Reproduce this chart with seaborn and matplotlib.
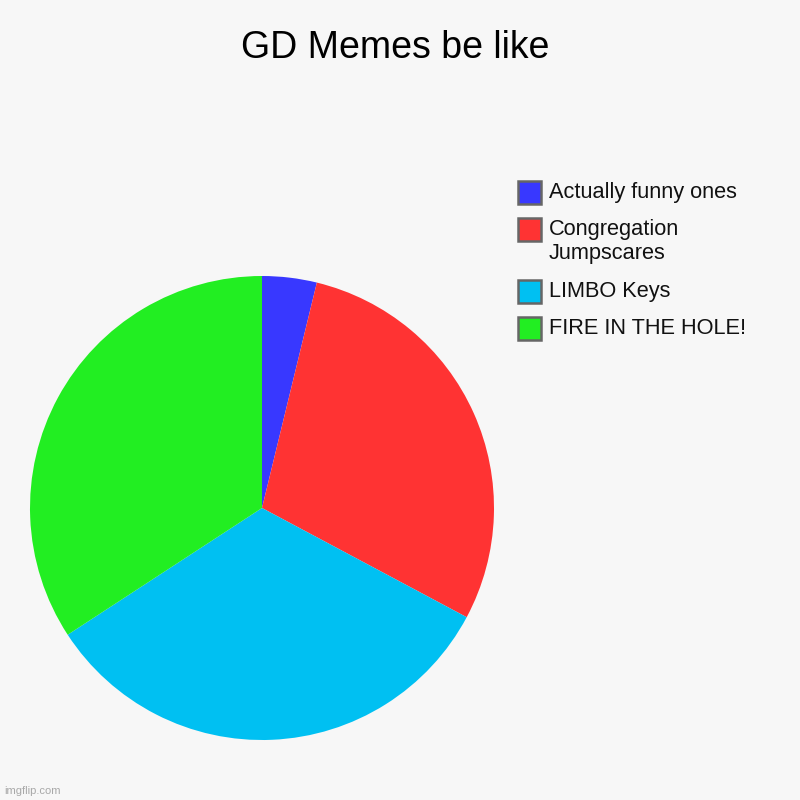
import matplotlib
matplotlib.use("Agg")
import matplotlib.pyplot as plt
import matplotlib.patches as mpatches
import seaborn as sns

sns.set_theme(style="white")
plt.rcParams['font.family'] = ['Liberation Sans', 'DejaVu Sans']

title = "GD Memes be like"
categories = ["Actually funny ones", "Congregation\nJumpscares", "LIMBO Keys", "FIRE IN THE HOLE!"]
values = [3.8, 29, 33, 34.2]
colors = ["#3838FF", "#FF3333", "#00C0F2", "#22EE22"]

W = H = 800
bg = "#F7F7F7"
fig = plt.figure(figsize=(8, 8), dpi=100, facecolor=bg)

# pie centred at (262, 508) px, radius 232 px
cx, cy, r = 262, 508, 232
ax = fig.add_axes([(cx - r) / W, (H - cy - r) / H, 2 * r / W, 2 * r / H])
ax.set_facecolor(bg)
wedges, _ = ax.pie(values, colors=colors, startangle=90, counterclock=False,
                   wedgeprops=dict(linewidth=0))
ax.set_xlim(-1, 1)
ax.set_ylim(-1, 1)
ax.set_aspect('equal')
ax.axis('off')

fig.text(395 / W, 1 - 48 / H, title, ha='center', va='center', fontsize=27, color='black')

# legend (drawn in figure pixel coordinates)
box_x, box_w = 518, 23
box_tops = [181, 218, 280, 317]
text_x = 549
line_h = 24
for lab, col, top in zip(categories, colors, box_tops):
    fig.patches.append(mpatches.Rectangle((box_x / W, 1 - (top + box_w) / H), box_w / W, box_w / H,
                                          transform=fig.transFigure, facecolor=col,
                                          edgecolor="#666666", linewidth=1.8))
    yc = top + box_w / 2
    for i, line in enumerate(lab.split("\n")):
        fig.text(text_x / W, 1 - (yc + i * line_h) / H, line, ha='left', va='center',
                 fontsize=15.7, color='#111111')

fig.text(4 / W, 1 - 791 / H, "imgflip.com", fontsize=8, color="#A8A8A8", ha='left', va='center')

fig.savefig("out.png", dpi=100, facecolor=bg)
